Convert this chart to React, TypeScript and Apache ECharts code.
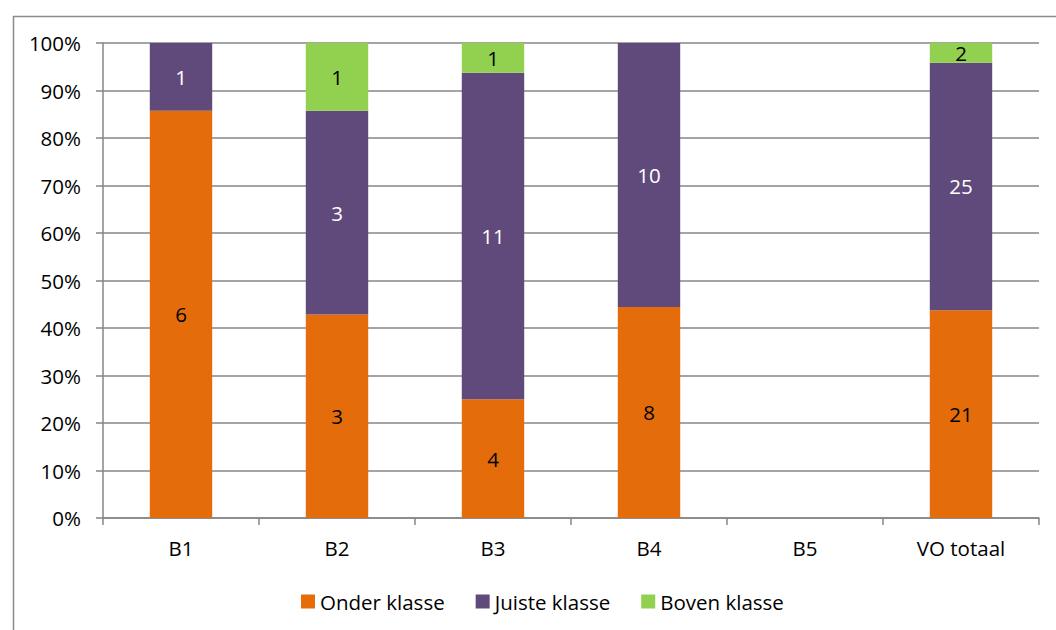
import React, { useEffect, useRef } from "react";
import * as echarts from "echarts";

const categories = ["B1", "B2", "B3", "B4", "B5", "VO totaal"];
const onderKlasse = [6, 3, 4, 8, 0, 21];
const juisteKlasse = [1, 3, 11, 10, 0, 25];
const bovenKlasse = [0, 1, 1, 0, 0, 2];
const yTicks = [0, 10, 20, 30, 40, 50, 60, 70, 80, 90, 100];

const seriesDefs = [
  { name: "Onder klasse", values: onderKlasse, color: "#E46C0A", labelColor: "#000000" },
  { name: "Juiste klasse", values: juisteKlasse, color: "#604A7B", labelColor: "#FFFFFF" },
  { name: "Boven klasse", values: bovenKlasse, color: "#92D050", labelColor: "#000000" },
];

const FONT = "'Open Sans', sans-serif";
const FS = 20.5;

export default function App() {
  const ref = useRef<HTMLDivElement>(null);
  useEffect(() => {
    if (!ref.current) return;
    const chart = echarts.init(ref.current, undefined, { renderer: "svg" });
    const totals = categories.map((_, i) =>
      seriesDefs.reduce((s, d) => s + d.values[i], 0)
    );
    chart.setOption({
      animation: false,
      textStyle: { fontFamily: FONT },
      graphic: [
        {
          type: "rect",
          left: 11,
          top: 14,
          shape: { x: 0, y: 0, width: 1100, height: 700 },
          style: { fill: "none", stroke: "#8C8C8C", lineWidth: 1.5 },
          silent: true,
        },
      ],
      grid: { left: 103, right: 17, top: 43, bottom: 112, containLabel: false },
      legend: {
        top: 591,
        left: 301,
        padding: 0,
        itemWidth: 14,
        itemHeight: 14,
        itemGap: 31,
        icon: "rect",
        textStyle: { fontSize: FS, color: "#000", fontFamily: FONT },
        data: seriesDefs.map((d) => d.name),
      },
      xAxis: {
        type: "category",
        data: categories,
        axisLine: { lineStyle: { color: "#868686", width: 1.5 } },
        axisTick: { show: true, length: 7, lineStyle: { color: "#868686", width: 1.5 } },
        axisLabel: { fontSize: FS, color: "#000", margin: 19, fontFamily: FONT },
      },
      yAxis: {
        type: "value",
        min: yTicks[0],
        max: yTicks[yTicks.length - 1],
        interval: 10,
        axisLine: { show: true, lineStyle: { color: "#868686", width: 1.5 } },
        axisTick: { show: true, length: 7, lineStyle: { color: "#868686", width: 1.5 } },
        axisLabel: { fontSize: FS, color: "#000", formatter: "{value}%", margin: 22, fontFamily: FONT },
        splitLine: { show: true, lineStyle: { color: "#868686", width: 1.5 } },
      },
      series: seriesDefs.map((d) => ({
        name: d.name,
        type: "bar",
        stack: "total",
        barWidth: "40%",
        itemStyle: { color: d.color },
        data: d.values.map((v, i) => (totals[i] ? (v / totals[i]) * 100 : 0)),
        label: {
          show: true,
          position: "inside",
          color: d.labelColor,
          fontSize: FS,
          fontFamily: FONT,
          formatter: (p: any) => (d.values[p.dataIndex] ? String(d.values[p.dataIndex]) : ""),
        },
      })),
    });
    return () => chart.dispose();
  }, []);
  return (
    <div
      ref={ref}
      style={{ position: "absolute", left: 0, top: 0, width: 1056, height: 630 }}
    />
  );
}
